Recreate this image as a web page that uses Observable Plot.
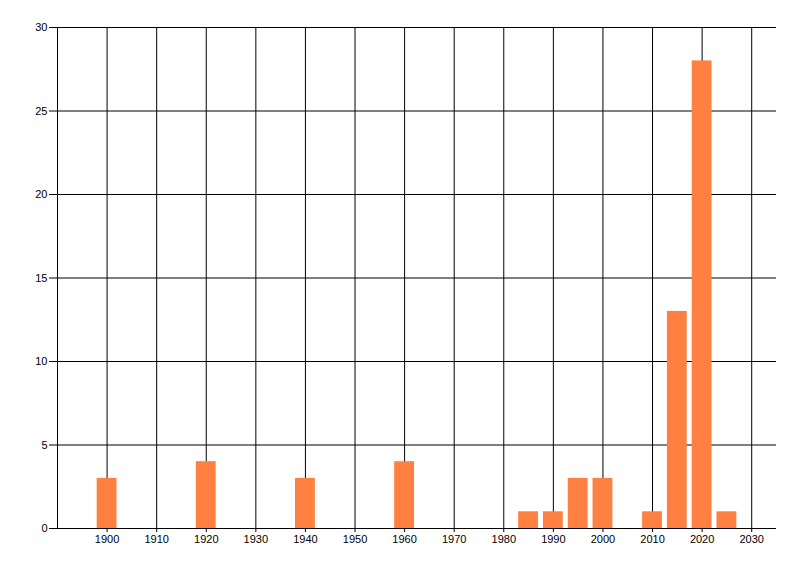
<!DOCTYPE html>
<html>
<head>
<meta charset="utf-8">
<script src="https://cdn.jsdelivr.net/npm/d3@7"></script>
<script src="https://cdn.jsdelivr.net/npm/@observablehq/plot@0.6"></script>
<style>
  html, body { margin: 0; padding: 0; background: #fff; }
  #chart svg { display: block; }
</style>
</head>
<body>
<div id="chart"></div>
<script>
const years  = [1900, 1920, 1940, 1960, 1985, 1990, 1995, 2000, 2010, 2015, 2020, 2025];
const counts = [3, 4, 3, 4, 1, 1, 3, 3, 1, 13, 28, 1];
const xTicks = [1900, 1910, 1920, 1930, 1940, 1950, 1960, 1970, 1980, 1990, 2000, 2010, 2020, 2030];
const yTicks = [0, 5, 10, 15, 20, 25, 30];

const data = years.map((y, i) => ({year: y, count: counts[i]}));

const chart = Plot.plot({
  width: 800,
  height: 576,
  marginLeft: 57,
  marginRight: 24,
  marginTop: 27,
  marginBottom: 48,
  style: {fontFamily: "'Liberation Sans', Arial, sans-serif", fontSize: "11px", color: "#000", background: "#fff"},
  x: {domain: [1890, 2035], ticks: xTicks},
  y: {domain: [0, 30], ticks: yTicks},
  marks: [
    Plot.ruleX(xTicks, {y1: 0, y2: 30, stroke: "#000", strokeWidth: 1}),
    Plot.ruleY(yTicks, {x1: 1890, x2: 2035, stroke: "#000", strokeWidth: 1}),
    Plot.rectY(data, {x1: d => d.year - 2, x2: d => d.year + 2, y: "count", fill: "#ff8040"}),
    Plot.ruleX([1890], {y1: 0, y2: 30, stroke: "#000"}),
    Plot.ruleY([0], {x1: 1890, x2: 2035, stroke: "#000"}),
    Plot.axisY({ticks: yTicks, tickSize: 8, tickPadding: 2, tickFormat: d => String(d), label: null, stroke: "#000"}),
    Plot.axisX({ticks: xTicks, tickSize: 4, tickPadding: 3, tickFormat: d => String(d), label: null, stroke: "#000"})
  ]
});
document.getElementById("chart").appendChild(chart);
</script>
</body>
</html>
